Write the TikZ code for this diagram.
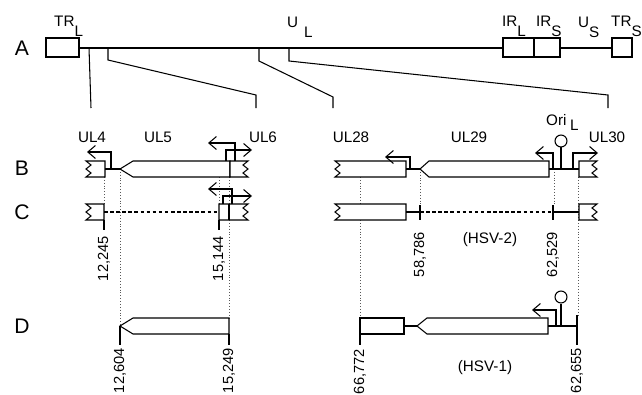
\documentclass[tikz,border=0pt]{standalone}
\usepackage{fontspec}
\setmainfont{Liberation Sans}
\usetikzlibrary{arrows.meta}

\tikzset{
  seq/.style={line width=0.9pt},
  gene/.style={line width=0.9pt, fill=white},
  guide/.style={dotted, line width=0.45pt, black!65},
  prom/.style={line width=0.9pt, -{Straight Barb[length=6.5pt,width=11pt]}},
  gapline/.style={line width=0.9pt, dash pattern=on 3pt off 2.2pt},
  coordlbl/.style={rotate=90, anchor=east, inner sep=0pt, font=\fontsize{12.5}{14}\selectfont},
  genelbl/.style={inner sep=0pt, anchor=base, font=\fontsize{13}{15}\selectfont},
  rowlbl/.style={inner sep=0pt, font=\fontsize{18}{21}\selectfont},
}

\newcommand{\sbs}[1]{\raisebox{-0.6em}{#1}}
% box with a broken left end: x0, x1, top
\newcommand{\jagleft}[3]{\draw[gene] (#1,#3) -- (#2,#3) -- (#2,#3+16) -- (#1,#3+16) -- (#1+5,#3+12) -- (#1,#3+8) -- (#1+5,#3+4) -- cycle;}
% box with a broken right end: x0, x1, top
\newcommand{\jagright}[3]{\draw[gene] (#1,#3) -- (#2,#3) -- (#2-5,#3+4) -- (#2,#3+8) -- (#2-5,#3+12) -- (#2,#3+16) -- (#1,#3+16) -- cycle;}
% gene pointing left: tip, shoulder, end, top
\newcommand{\geneleft}[4]{\draw[gene] (#1,#4+8) -- (#2,#4) -- (#3,#4) -- (#3,#4+16) -- (#2,#4+16) -- cycle;}

\begin{document}
\begin{tikzpicture}[x=0.03cm, y=-0.03cm]
    \useasboundingbox (0,0) rectangle (642,395);
    % Row letters
    \node[rowlbl] (rowA) at (22,48) {A};
    \node[rowlbl] (rowB) at (22,168) {B};
    \node[rowlbl] (rowC) at (22,212) {C};
    \node[rowlbl] (rowD) at (22,326) {D};

    % A: genome
    \draw[seq] (79,48) -- (503,48);
    \draw[seq] (560,48) -- (612,48);
    \draw[seq] (46,38) rectangle (79,57);
    \draw[seq] (503,38) rectangle (534,57);
    \draw[seq] (534,38) rectangle (560,57);
    \draw[seq] (612,38) rectangle (632,57);
    \node[genelbl, anchor=base west] (trl) at (54,27) {TR\sbs{L}};
    \node[genelbl, anchor=base west] (ul) at (287,28) {U\hspace{5pt}\sbs{L}};
    \node[genelbl, anchor=base west] (irl) at (502,27) {IR\sbs{L}};
    \node[genelbl, anchor=base west] (irs) at (536,27) {IR\sbs{S}};
    \node[genelbl, anchor=base west] (us) at (578,28) {U\sbs{S}};
    \node[genelbl, anchor=base west] (trs) at (611,27) {TR\sbs{S}};
    % A: expanded regions
    \draw[seq] (89,48) -- (91,108);
    \draw[seq] (108,48) -- (108,60) -- (256,95) -- (256,108);
    \draw[seq] (259,48) -- (259,61) -- (333,97) -- (333,108);
    \draw[seq] (289,48) -- (289,61) -- (608,95) -- (608,108);

    % Guides
    \draw[guide] (104,177) -- (104,204);
    \draw[guide] (120,169) -- (120,326);
    \draw[guide] (219,177) -- (219,204);
    \draw[guide] (229,177) -- (229,318);
    \draw[guide] (360,177) -- (360,318);
    \draw[guide] (420,169) -- (420,205);
    \draw[guide] (554,169) -- (554,205);
    \draw[guide] (578,177) -- (578,315);

    % B: UL4 - UL6
    \node[genelbl] (ul4) at (92,142) {UL4};
    \node[genelbl] (ul5) at (158,142) {UL5};
    \node[genelbl] (ul6) at (263,142) {UL6};
    \jagleft{86}{105}{161}
    \draw[seq] (105,169) -- (120,169);
    \draw[prom] (111,169) -- (111,152) -- (87,152);
    \geneleft{120}{133}{230}{161}
    \jagright{230}{248}{161}
    \draw[prom] (235,161) -- (235,143) -- (208,143);
    \draw[prom] (226,161) -- (226,150) -- (252,150);

    % B: UL28 - UL30
    \node[genelbl] (ul28) at (351,142) {UL28};
    \node[genelbl] (ul29) at (469,142) {UL29};
    \node[genelbl] (ul30) at (607,142) {UL30};
    \node[genelbl, anchor=base west] (oril) at (546,125) {Ori\hspace{3pt}\raisebox{-0.35em}{L}};
    \jagleft{335}{406}{161}
    \draw[seq] (406,169) -- (420,169);
    \draw[prom] (410,169) -- (410,157) -- (385,157);
    \geneleft{420}{429}{549}{161}
    \draw[seq] (549,169) -- (579,169);
    \draw[seq] (561,169) -- (561,147);
    \draw[seq, fill=white] (561,141) circle[radius=5.1pt];
    \draw[prom] (553,169) -- (553,153) -- (535,153);
    \draw[prom] (573,169) -- (573,153) -- (598,153);
    \jagright{579}{597}{161}

    % C: deletion, left
    \jagleft{86}{104}{204}
    \draw[seq] (104,220) -- (104,230);
    \draw[gapline] (104,212) -- (219,212);
    \jagright{219}{248}{204}
    \draw[seq] (229,204) -- (229,220);
    \draw[seq] (219,220) -- (219,230);
    \draw[prom] (232,204) -- (232,189) -- (208,189);
    \draw[prom] (223,204) -- (223,196) -- (252,196);
    \node[coordlbl] (c1) at (104,236) {12,245};
    \node[coordlbl] (c2) at (219,236) {15,144};

    % C: deletion, right
    \jagleft{335}{406}{204}
    \draw[seq] (406,212) -- (420,212);
    \draw[seq] (420,205) -- (420,220);
    \draw[gapline] (420,212) -- (553,212);
    \draw[seq] (553,205) -- (553,220);
    \draw[seq] (553,212) -- (579,212);
    \jagright{579}{597}{204}
    \node[coordlbl] (c3) at (420,232) {58,786};
    \node[coordlbl] (c4) at (553,232) {62,529};
    \node[genelbl, anchor=center] (hsv2) at (490,240) {(HSV-2)};

    % D: fragment, left
    \geneleft{120}{133}{229}{318}
    \draw[seq] (120,326) -- (120,345);
    \draw[seq] (229,334) -- (229,345);
    \node[coordlbl] (d1) at (120,348) {12,604};
    \node[coordlbl] (d2) at (229,348) {15,249};

    % D: fragment, right
    \draw[gene] (360,318) rectangle (404,334);
    \draw[seq] (360,334) -- (360,345);
    \draw[seq] (404,326) -- (417,326);
    \geneleft{417}{427}{548}{318}
    \draw[seq] (548,326) -- (577,326);
    \draw[prom] (556,326) -- (556,310) -- (532,310);
    \draw[seq] (561,326) -- (561,304);
    \draw[seq, fill=white] (561,297) circle[radius=5.1pt];
    \draw[seq] (577,315) -- (577,345);
    \node[coordlbl] (d3) at (360,349) {66,772};
    \node[coordlbl] (d4) at (577,348) {62,655};
    \node[genelbl, anchor=center] (hsv1) at (485,368) {(HSV-1)};
\end{tikzpicture}
\end{document}
